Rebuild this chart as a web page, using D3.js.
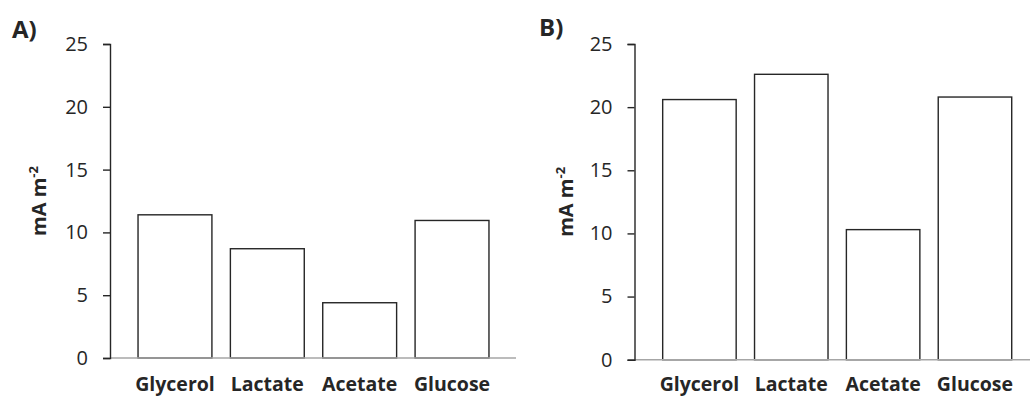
<!DOCTYPE html>
<html>
<head>
<meta charset="utf-8">
<script src="https://cdn.jsdelivr.net/npm/d3@7"></script>
<style>
  html, body { margin: 0; padding: 0; background: #fff; }
  svg { display: block; }
  text { font-family: "Open Sans", "Liberation Sans", sans-serif; fill: #262626; }
</style>
</head>
<body>
<svg id="chart" width="1030" height="397"></svg>
<script>
// Current density per substrate, two experiments
const categories = ["Glycerol", "Lactate", "Acetate", "Glucose"];
const valuesA = [11.4, 8.7, 4.4, 10.95];
const valuesB = [20.6, 22.6, 10.3, 20.8];
const yTicks = [0, 5, 10, 15, 20, 25];
const panelLabels = ["A)", "B)"];
const yLabel = "mA m";
const yLabelSup = "-2";

const svg = d3.select("#chart");

const panels = [
  { label: panelLabels[0], values: valuesA, axisX: 110, y0: 358, y1: 44, xEnd: 516,
    band: [128.8, 498.2], labelPos: [12, 38], yLabelX: 46, tickLabelGap: 15 },
  { label: panelLabels[1], values: valuesB, axisX: 634.5, y0: 359.7, y1: 44, xEnd: 1030,
    band: [653.5, 1020.9], labelPos: [539, 36], yLabelX: 573, tickLabelGap: 15 }
];

panels.forEach(p => {
  const g = svg.append("g");

  const y = d3.scaleLinear().domain([0, 25]).range([p.y0, p.y1]);
  const x = d3.scaleBand().domain(categories).range(p.band)
    .paddingInner(0.2).paddingOuter(0.1);

  // bars
  g.selectAll("rect.bar")
    .data(categories.map((c, i) => ({ c, v: p.values[i] })))
    .join("rect")
    .attr("class", "bar")
    .attr("x", d => x(d.c))
    .attr("width", x.bandwidth())
    .attr("y", d => y(d.v))
    .attr("height", d => y(0) - y(d.v))
    .attr("fill", "#fff")
    .attr("stroke", "#262626")
    .attr("stroke-width", 1.4);

  // x baseline
  g.append("line")
    .attr("x1", p.axisX).attr("x2", p.xEnd)
    .attr("y1", y(0)).attr("y2", y(0))
    .attr("stroke", "#a6a6a6").attr("stroke-width", 1.5);

  // y axis
  const yAxis = d3.axisLeft(y).tickValues(yTicks).tickSize(7).tickPadding(p.tickLabelGap)
    .tickSizeOuter(7);
  const ya = g.append("g").attr("transform", `translate(${p.axisX},0)`).call(yAxis);
  ya.select(".domain").attr("stroke", "#262626").attr("stroke-width", 1.4);
  ya.selectAll(".tick line").attr("stroke", "#262626").attr("stroke-width", 1.4);
  ya.selectAll(".tick text")
    .attr("font-size", 20)
    .attr("font-family", "'Open Sans', sans-serif")
    .attr("fill", "#262626");

  // category labels
  g.selectAll("text.cat")
    .data(categories)
    .join("text")
    .attr("class", "cat")
    .attr("x", d => x(d) + x.bandwidth() / 2)
    .attr("y", 390.5)
    .attr("text-anchor", "middle")
    .attr("font-size", 19.5)
    .attr("font-weight", "bold")
    .text(d => d);

  // y axis title
  const yc = (p.y0 + p.y1) / 2;
  const t = g.append("text")
    .attr("transform", `translate(${p.yLabelX},${yc}) rotate(-90)`)
    .attr("text-anchor", "middle")
    .attr("font-size", 20)
    .attr("font-weight", "bold");
  t.append("tspan").text(yLabel);
  t.append("tspan").attr("dy", -8).attr("font-size", 13).text(yLabelSup);

  // panel label
  g.append("text")
    .attr("x", p.labelPos[0]).attr("y", p.labelPos[1])
    .attr("font-size", 24)
    .attr("font-weight", "bold")
    .text(p.label);
});
</script>
</body>
</html>
